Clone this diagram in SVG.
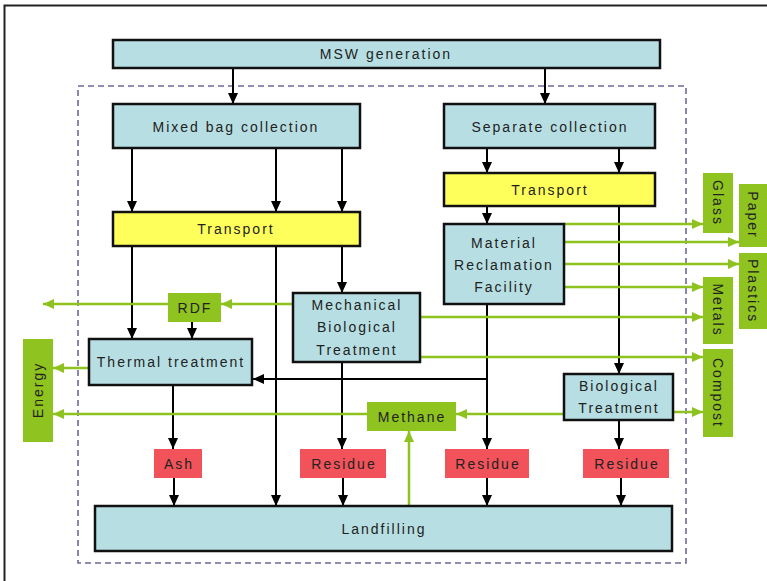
<svg xmlns="http://www.w3.org/2000/svg" width="767" height="581" viewBox="0 0 767 581">
<defs>
<marker id="ab" markerUnits="userSpaceOnUse" markerWidth="12" markerHeight="12" viewBox="0 0 12 12" refX="11" refY="6" orient="auto"><path d="M0,1 L11,6 L0,11 Z" fill="#000"/></marker>
<marker id="ag" markerUnits="userSpaceOnUse" markerWidth="12" markerHeight="12" viewBox="0 0 12 12" refX="11" refY="6" orient="auto"><path d="M0,1 L11,6 L0,11 Z" fill="#8dc21f"/></marker>
</defs>
<style>
.b{fill:#b7dfe3;stroke:#111;stroke-width:2.5}
.y{fill:#ffff5c;stroke:#111;stroke-width:2.5}
.g{fill:#8fc31f}
.r{fill:#f2535a}
text{font-family:"Liberation Sans",Arial,sans-serif;font-size:14px;letter-spacing:2px;fill:#222;text-anchor:middle;dominant-baseline:central}
.k{stroke:#000;stroke-width:2;fill:none;marker-end:url(#ab)}
.kl{stroke:#000;stroke-width:2;fill:none}
.gl{stroke:#8dc21f;stroke-width:2.5;fill:none;marker-end:url(#ag)}
</style>
<rect width="767" height="581" fill="#fff"/>
<path d="M4.5,581 V5.5 H767" fill="none" stroke="#222" stroke-width="2"/>
<rect x="78" y="86" width="608" height="477" fill="none" stroke="#6c6a9c" stroke-width="1.6" stroke-dasharray="6,4"/>

<g id="connectors">
<path class="k" d="M233,69 V104"/>
<path class="k" d="M545,69 V104"/>
<path class="k" d="M132,149 V212"/>
<path class="k" d="M276,149 V212"/>
<path class="k" d="M342,149 V212"/>
<path class="k" d="M487,149 V173"/>
<path class="k" d="M619,149 V173"/>
<path class="k" d="M487,207 V224"/>
<path class="k" d="M132,247 V339"/>
<path class="k" d="M276,247 V506"/>
<path class="k" d="M342,247 V293"/>
<path class="k" d="M192,322 V339"/>
<path class="k" d="M619,207 V374"/>
<path class="k" d="M487,305 V449"/>
<path class="k" d="M487,379 H253"/>
<path class="k" d="M342,363 V449"/>
<path class="k" d="M173,386 V449"/>
<path class="k" d="M619,421 V449"/>
<path class="k" d="M174,478 V506"/>
<path class="k" d="M343,478 V506"/>
<path class="k" d="M487,478 V506"/>
<path class="k" d="M621,478 V506"/>
<path class="gl" d="M565,224 H703"/>
<path class="gl" d="M565,242 H739"/>
<path class="gl" d="M565,264 H739"/>
<path class="gl" d="M565,287 H703"/>
<path class="gl" d="M421,317 H703"/>
<path class="gl" d="M421,357 H703"/>
<path class="gl" d="M674,412 H703"/>
<path class="gl" d="M563,414 H456"/>
<path class="gl" d="M367,414 H53"/>
<path class="gl" d="M88,368 H53"/>
<path class="gl" d="M292,304 H221"/>
<path class="gl" d="M168,304 H43"/>
<path class="gl" d="M409,505 V431"/>
</g>

<g id="msw"><rect class="b" x="113" y="40" width="547" height="28"/><text x="386" y="54">MSW generation</text></g>
<g id="mixed"><rect class="b" x="113" y="104" width="247" height="44"/><text x="236" y="127">Mixed bag collection</text></g>
<g id="separate"><rect class="b" x="444" y="104" width="211" height="44"/><text x="550" y="127">Separate collection</text></g>
<g id="transport1"><rect class="y" x="113" y="212" width="247" height="34"/><text x="236" y="229">Transport</text></g>
<g id="transport2"><rect class="y" x="444" y="173" width="211" height="33"/><text x="550" y="190">Transport</text></g>
<g id="mrf"><rect class="b" x="444" y="224" width="120" height="80"/><text x="504" y="243">Material</text><text x="504" y="265">Reclamation</text><text x="504" y="287">Facility</text></g>
<g id="mbt"><rect class="b" x="293" y="293" width="127" height="69"/><text x="357" y="305">Mechanical</text><text x="357" y="327">Biological</text><text x="357" y="350">Treatment</text></g>
<g id="rdf"><rect class="g" x="168" y="293" width="53" height="29"/><text x="195" y="308">RDF</text></g>
<g id="thermal"><rect class="b" x="89" y="339" width="163" height="46"/><text x="171" y="362">Thermal treatment</text></g>
<g id="bt"><rect class="b" x="564" y="374" width="109" height="46"/><text x="619" y="386">Biological</text><text x="619" y="408">Treatment</text></g>
<g id="methane"><rect class="g" x="367" y="402" width="89" height="29"/><text x="412" y="417">Methane</text></g>
<g id="energy"><rect class="g" x="23" y="339" width="30" height="103"/><text transform="translate(38,390) rotate(-90)" x="0" y="0">Energy</text></g>
<g id="glass"><rect class="g" x="703" y="173" width="30" height="60"/><text transform="translate(718,203) rotate(90)" x="0" y="0">Glass</text></g>
<g id="paper"><rect class="g" x="739" y="184" width="28" height="63"/><text transform="translate(753,215) rotate(90)" x="0" y="0">Paper</text></g>
<g id="plastics"><rect class="g" x="739" y="253" width="28" height="76"/><text transform="translate(753,291) rotate(90)" x="0" y="0">Plastics</text></g>
<g id="metals"><rect class="g" x="703" y="277" width="30" height="67"/><text transform="translate(718,310) rotate(90)" x="0" y="0">Metals</text></g>
<g id="compost"><rect class="g" x="703" y="349" width="30" height="88"/><text transform="translate(718,393) rotate(90)" x="0" y="0">Compost</text></g>
<g id="ash"><rect class="r" x="154" y="449" width="48" height="29"/><text x="179" y="464">Ash</text></g>
<g id="residue1"><rect class="r" x="300" y="449" width="86" height="29"/><text x="344" y="464">Residue</text></g>
<g id="residue2"><rect class="r" x="445" y="449" width="84" height="29"/><text x="488" y="464">Residue</text></g>
<g id="residue3"><rect class="r" x="583" y="449" width="86" height="29"/><text x="627" y="464">Residue</text></g>
<g id="landfill"><rect class="b" x="95" y="506" width="577" height="45"/><text x="384" y="529">Landfilling</text></g>
</svg>
